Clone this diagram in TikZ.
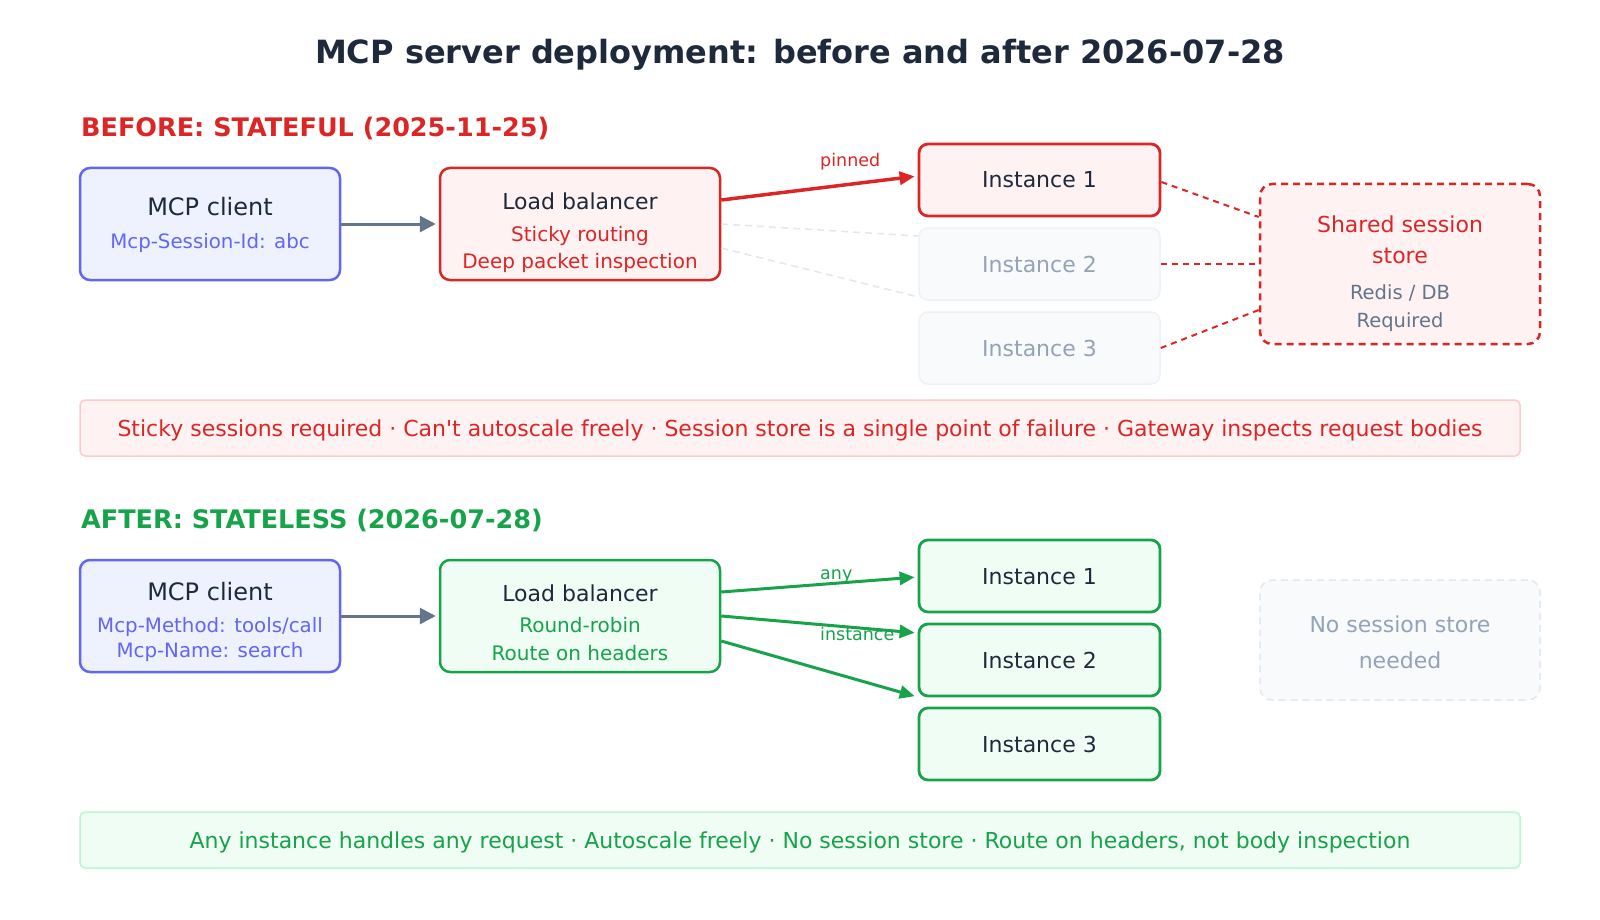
\documentclass[tikz,border=0pt]{standalone}
\usepackage{fontspec}
\setmainfont{DejaVu Sans}
\usetikzlibrary{arrows.meta,calc}
\definecolor{ink}{HTML}{1E293B}
\definecolor{redc}{HTML}{DC2626}
\definecolor{redfill}{HTML}{FEF2F2}
\definecolor{redline}{HTML}{FECACA}
\definecolor{greenc}{HTML}{16A34A}
\definecolor{greenfill}{HTML}{F0FDF4}
\definecolor{greenline}{HTML}{BBF7D0}
\definecolor{indigo}{HTML}{6366F1}
\definecolor{indigofill}{HTML}{EEF2FF}
\definecolor{slate}{HTML}{64748B}
\definecolor{fadefill}{HTML}{F8FAFC}
\definecolor{fadeline}{HTML}{E2E8F0}
\definecolor{fadeborder}{HTML}{EEF2F6}
\definecolor{fadetext}{HTML}{94A3B8}
\newcommand\myfs[1]{\fontsize{#1}{#1}\selectfont}
\begin{document}
\begin{tikzpicture}[x=1pt,y=-1pt,
  txt/.style={inner sep=0pt, anchor=base},
  bigbox/.style={rounded corners=10pt, line width=2.5pt, inner sep=0pt, minimum width=260pt, minimum height=112pt},
  clientbox/.style={bigbox, draw=indigo, fill=indigofill, minimum width=260pt},
  lbred/.style={bigbox, draw=redc, fill=redfill, minimum width=280pt},
  lbgreen/.style={bigbox, draw=greenc, fill=greenfill, minimum width=280pt},
  instbox/.style={rounded corners=9pt, inner sep=0pt, minimum width=241pt, minimum height=72pt},
  instred/.style={instbox, draw=redc, fill=redfill, line width=2.8pt},
  instfade/.style={instbox, draw=fadeborder, fill=fadefill, line width=1.5pt},
  instgreen/.style={instbox, draw=greenc, fill=greenfill, line width=2.8pt},
  banner/.style={rounded corners=5pt, inner sep=0pt, minimum width=1440pt, minimum height=56pt, line width=1.5pt},
  flow/.style={line width=3pt, -{Triangle[length=16pt,width=16pt]}},
  thin/.style={line width=3pt, -{Triangle[length=15pt,width=13pt]}},
  reddash/.style={draw=redc, line width=2pt, dash pattern=on 6pt off 5pt},
  fadedash/.style={draw=fadeline, line width=1.5pt, dash pattern=on 7pt off 5pt},
  lbl/.style={inner sep=0pt, anchor=base west, font=\myfs{17.5}},
]
\useasboundingbox[fill=white] (0,0) rectangle (1600,920);

% title
\node[txt, font=\bfseries\myfs{32}, text=ink] (title) at (800,64) {MCP server deployment: before and after 2026-07-28};

% ---------------- BEFORE ----------------
\node[txt, anchor=base west, font=\bfseries\myfs{25.5}, text=redc] (hbefore) at (81,137) {BEFORE: STATEFUL (2025-11-25)};

\node[clientbox] (client1) at (210,224) {};
\node[txt, font=\myfs{24}, text=ink] (c1a) at (210,215) {MCP client};
\node[txt, font=\myfs{19.8}, text=indigo] (c1b) at (210,248) {Mcp-Session-Id: abc};

\node[lbred] (lb1) at (580,224) {};
\node[txt, font=\myfs{22}, text=ink] (lb1a) at (580,209) {Load balancer};
\node[txt, font=\myfs{20}, text=redc] (lb1b) at (580,241) {Sticky routing};
\node[txt, font=\myfs{20}, text=redc] (lb1c) at (580,268) {Deep packet inspection};

\node[instred] (i1a) at (1039.5,180) {};
\node[txt, font=\myfs{22}, text=ink] (i1at) at (1039.5,188) {Instance 1};
\node[instfade] (i2a) at (1039.5,264) {};
\node[txt, font=\myfs{22}, text=fadetext] (i2at) at (1039.5,272) {Instance 2};
\node[instfade] (i3a) at (1039.5,348) {};
\node[txt, font=\myfs{22}, text=fadetext] (i3at) at (1039.5,356) {Instance 3};

\node[rounded corners=12pt, draw=redc, fill=redfill, line width=2.5pt, dash pattern=on 7pt off 5pt, inner sep=0pt, minimum width=280pt, minimum height=160pt] (store) at (1400,264) {};
\node[txt, font=\myfs{22}, text=redc] (st1) at (1400,232) {Shared session};
\node[txt, font=\myfs{22}, text=redc] (st2) at (1400,263) {store};
\node[txt, font=\myfs{19.5}, text=slate] (st3) at (1400,299) {Redis / DB};
\node[txt, font=\myfs{19.5}, text=slate] (st4) at (1400,327) {Required};

% connectors before
\draw[flow, draw=slate, fill=slate, shorten >=3pt] (client1.east) -- (lb1.west);
\draw[thin, draw=redc, fill=redc, line width=3.5pt, shorten >=3pt] ([yshift=24pt]lb1.east) -- ([yshift=4pt]i1a.west);
\node[lbl, text=redc] (pinned) at (820,167) {pinned};
\draw[fadedash] (lb1.east) -- ([yshift=28pt]i2a.west);
\draw[fadedash] ([yshift=-24pt]lb1.east) -- ([yshift=51pt]i3a.west);
\draw[reddash] ([yshift=-2pt]i1a.east) -- ([yshift=47pt]store.west);
\draw[reddash] (i2a.east) -- (store.west);
\draw[reddash] (i3a.east) -- ([yshift=-46pt]store.west);

\node[banner, draw=redline, fill=redfill] (ban1) at (800,428) {};
\node[txt, font=\myfs{22}, text=redc] (ban1t) at (800,436.5) {Sticky sessions required · Can\textquotesingle t autoscale freely · Session store is a single point of failure · Gateway inspects request bodies};

% ---------------- AFTER ----------------
\node[txt, anchor=base west, font=\bfseries\myfs{25.5}, text=greenc] (hafter) at (81,528) {AFTER: STATELESS (2026-07-28)};

\node[clientbox] (client2) at (210,616) {};
\node[txt, font=\myfs{24}, text=ink] (c2a) at (210,600) {MCP client};
\node[txt, font=\myfs{19.8}, text=indigo] (c2b) at (210,632) {Mcp-Method: tools/call};
\node[txt, font=\myfs{19.8}, text=indigo] (c2c) at (210,657) {Mcp-Name: search};

\node[lbgreen] (lb2) at (580,616) {};
\node[txt, font=\myfs{22}, text=ink] (lb2a) at (580,601) {Load balancer};
\node[txt, font=\myfs{20}, text=greenc] (lb2b) at (580,632) {Round-robin};
\node[txt, font=\myfs{20}, text=greenc] (lb2c) at (580,660) {Route on headers};

\node[instgreen] (i1b) at (1039.5,576) {};
\node[txt, font=\myfs{22}, text=ink] (i1bt) at (1039.5,584) {Instance 1};
\node[instgreen] (i2b) at (1039.5,660) {};
\node[txt, font=\myfs{22}, text=ink] (i2bt) at (1039.5,668) {Instance 2};
\node[instgreen] (i3b) at (1039.5,744) {};
\node[txt, font=\myfs{22}, text=ink] (i3bt) at (1039.5,752) {Instance 3};

\node[rounded corners=12pt, draw=fadeline, fill=fadefill, line width=1.5pt, dash pattern=on 7pt off 5pt, inner sep=0pt, minimum width=280pt, minimum height=120pt] (nostore) at (1400,640) {};
\node[txt, font=\myfs{22}, text=fadetext] (ns1) at (1400,632) {No session store};
\node[txt, font=\myfs{22}, text=fadetext] (ns2) at (1400,668) {needed};

\draw[flow, draw=slate, fill=slate, shorten >=3pt] (client2.east) -- (lb2.west);
\draw[thin, draw=greenc, fill=greenc, shorten >=3pt] ([yshift=24pt]lb2.east) -- ([yshift=-1pt]i1b.west);
\draw[thin, draw=greenc, fill=greenc, shorten >=3pt] (lb2.east) -- ([yshift=27pt]i2b.west);
\draw[thin, draw=greenc, fill=greenc, shorten >=3pt] ([yshift=-25pt]lb2.east) -- ([yshift=47pt]i3b.west);
\node[lbl, text=greenc] (any) at (820,579) {any};
\node[lbl, text=greenc] (inst) at (820,640) {instance};

\node[banner, draw=greenline, fill=greenfill] (ban2) at (800,840) {};
\node[txt, font=\myfs{22}, text=greenc] (ban2t) at (800,848.5) {Any instance handles any request · Autoscale freely · No session store · Route on headers, not body inspection};
\end{tikzpicture}
\end{document}
